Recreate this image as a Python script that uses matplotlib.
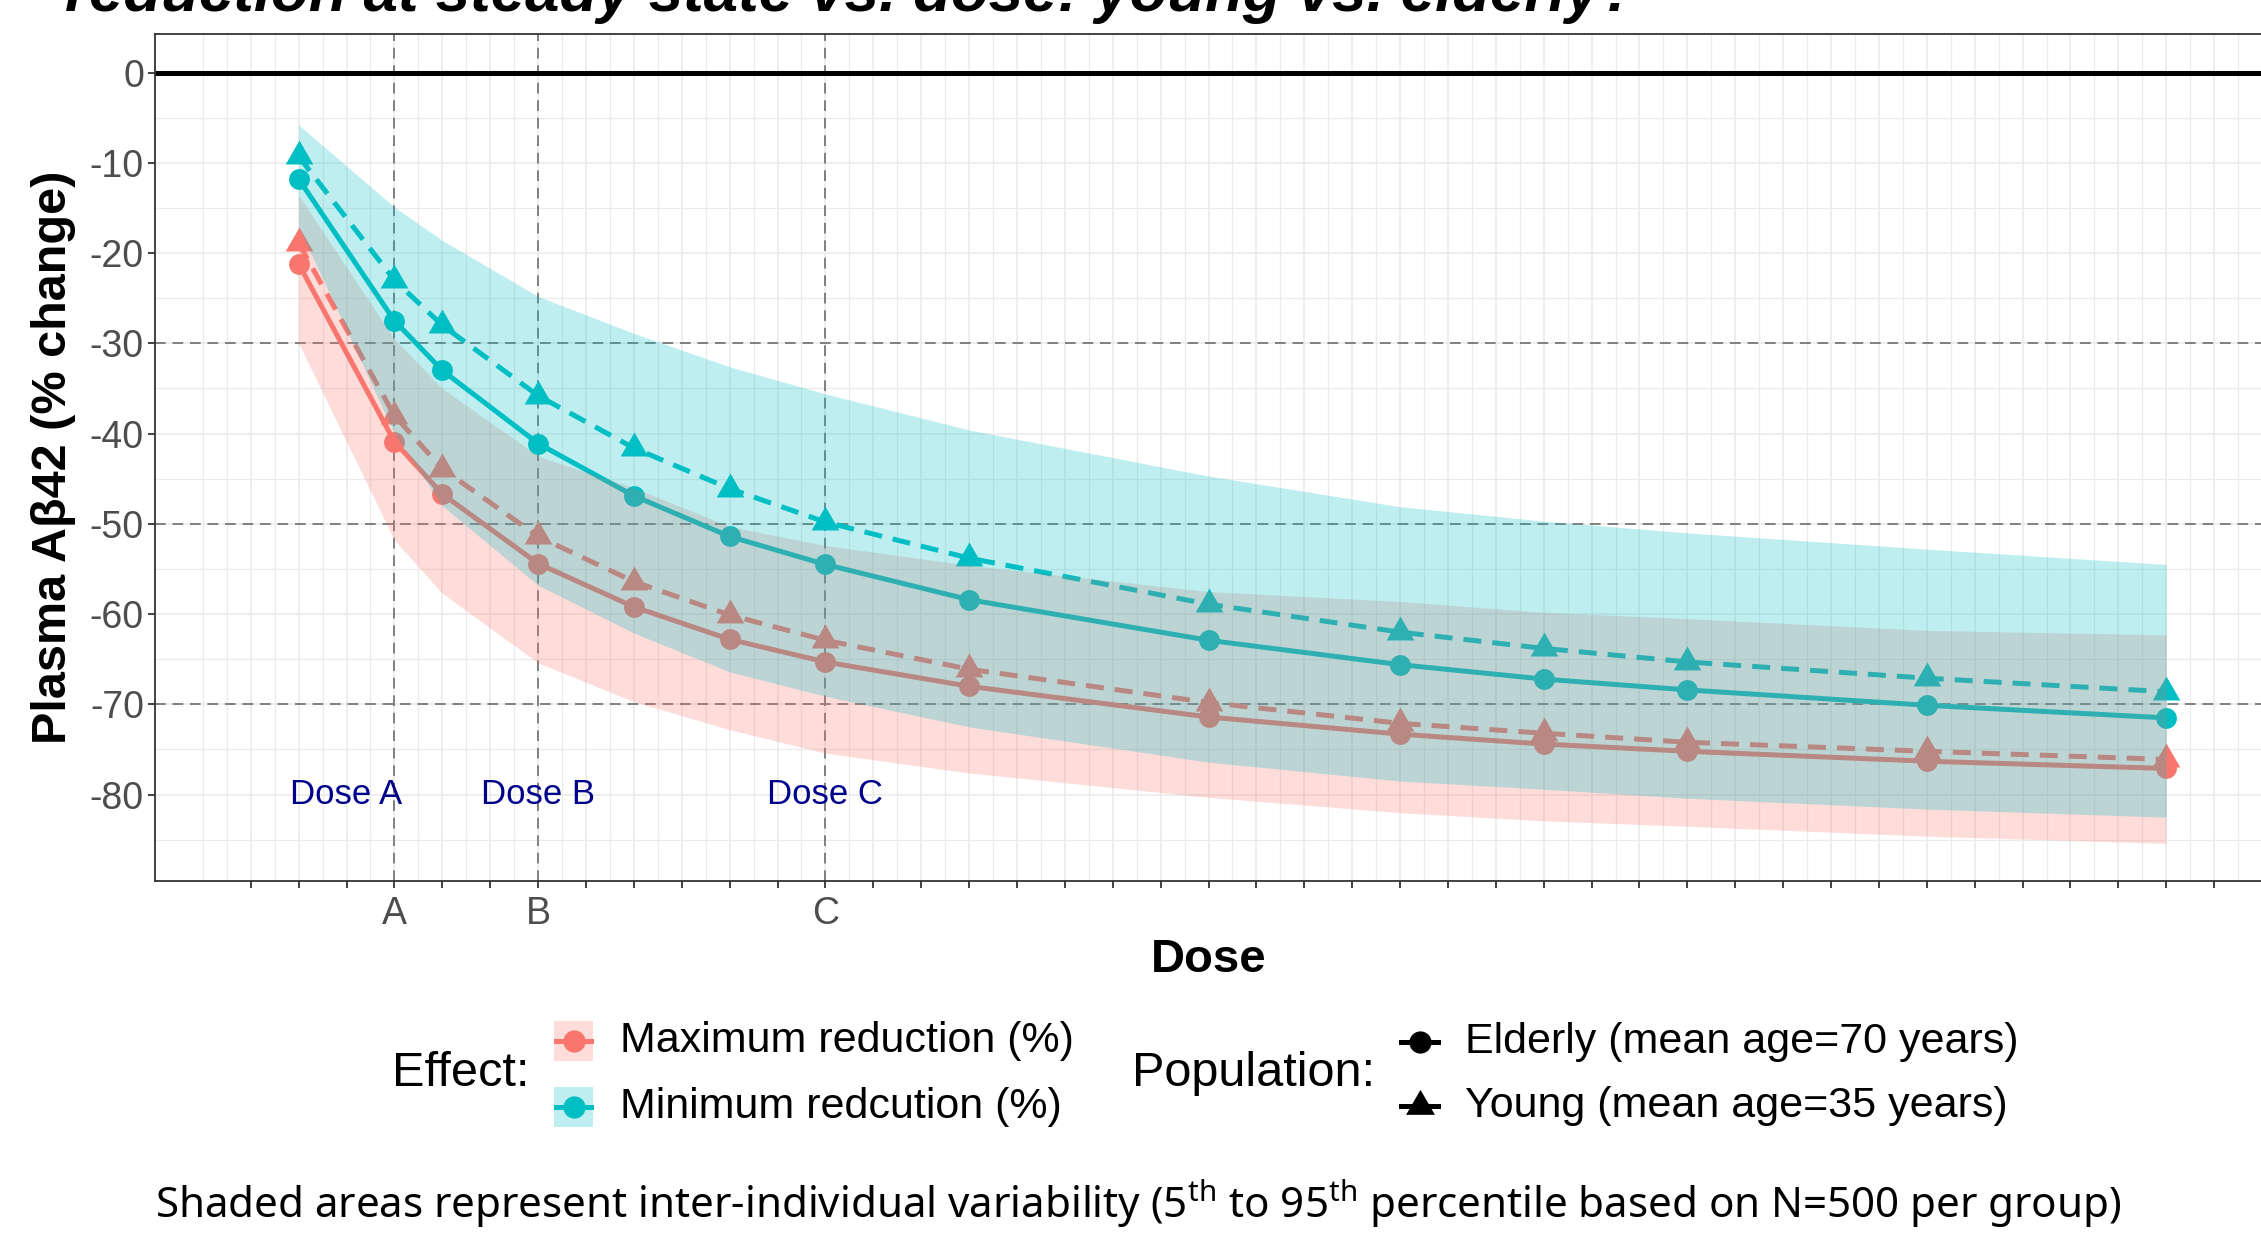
import numpy as np
import matplotlib
matplotlib.use("Agg")
import matplotlib.pyplot as plt
from matplotlib.lines import Line2D
from matplotlib.patches import Rectangle

plt.rcParams["font.family"] = ["Liberation Sans", "DejaVu Sans"]
plt.rcParams["mathtext.fontset"] = "custom"
plt.rcParams["mathtext.rm"] = "Noto Sans"

# dose grid (arbitrary units, ticks every unit)
dose = [1, 3, 4, 6, 8, 10, 12, 15, 20, 24, 27, 30, 35, 40]

# median curves (% change)
max_elderly = [-21.2, -40.9, -46.7, -54.4, -59.2, -62.8, -65.3, -68.0, -71.4, -73.3, -74.4, -75.2, -76.3, -77.1]
max_young = [-18.9, -38.0, -43.9, -51.4, -56.4, -60.1, -62.9, -66.1, -69.8, -72.1, -73.2, -74.2, -75.2, -76.1]
min_elderly = [-11.8, -27.5, -33.0, -41.1, -46.9, -51.4, -54.5, -58.4, -62.9, -65.6, -67.2, -68.4, -70.1, -71.5]
min_young = [-9.3, -23.0, -28.0, -35.8, -41.6, -46.1, -49.8, -53.8, -58.9, -62.0, -63.8, -65.3, -67.1, -68.6]

# 5th-95th percentile ribbons
max_lo = [-30.0, -51.8, -57.7, -65.4, -69.7, -72.8, -75.4, -77.6, -80.3, -82.0, -82.9, -83.5, -84.6, -85.4]
max_hi = [-13.6, -29.5, -35.0, -42.5, -46.0, -50.3, -52.4, -54.6, -57.5, -58.6, -59.8, -60.5, -61.8, -62.3]
min_lo = [-17.1, -40.0, -48.0, -56.8, -62.1, -66.4, -69.1, -72.5, -76.4, -78.5, -79.4, -80.4, -81.6, -82.5]
min_hi = [-5.8, -14.9, -18.6, -24.8, -28.9, -32.6, -35.6, -39.6, -44.7, -48.1, -49.7, -51.0, -52.8, -54.5]

ref_doses = [3, 6, 12]
ref_labels = ["A", "B", "C"]
ref_levels = [-30, -50, -70]
dose_text_x = [2.0, 6, 12]
dose_text = ["Dose A", "Dose B", "Dose C"]

RED = "#F8766D"
CYAN = "#00BFC4"
TRI = [(0, 1), (-0.866, -0.5), (0.866, -0.5)]

W, H, DPI = 2261, 1239, 100
fig = plt.figure(figsize=(W / DPI, H / DPI), dpi=DPI)
fig.patch.set_facecolor("white")


def fx(px):
    return px / W


def fy(py):
    return 1 - py / H


ax = fig.add_axes([fx(155), fy(881), fx(2262) - fx(155), fy(34) - fy(881)])
ax.set_xlim(-2, 42)
ax.set_ylim(-89.57, 4.27)

# grid
ax.set_xticks(range(0, 43))
ax.set_xticks(np.arange(-1, 42.01, 0.5), minor=True)
ax.set_yticks(range(-80, 1, 10))
ax.set_yticks(range(-85, 0, 10), minor=True)
ax.grid(which="major", color="#EBEBEB", lw=1.2)
ax.grid(which="minor", color="#EBEBEB", lw=0.9)
ax.set_axisbelow(True)

xlabels = [""] * 43
for d, l in zip(ref_doses, ref_labels):
    xlabels[d] = l
ax.set_xticklabels(xlabels)
ax.set_yticklabels([str(v) for v in range(-80, 1, 10)])
ax.tick_params(which="major", length=5, width=1.3, color="#333333",
               labelsize=27, labelcolor="#4D4D4D")
ax.tick_params(axis="x", pad=6)
ax.tick_params(axis="y", pad=3)
ax.tick_params(which="minor", length=0)
for side in ["left", "bottom", "top"]:
    ax.spines[side].set_color("#333333")
    ax.spines[side].set_linewidth(1.3)
ax.spines["right"].set_visible(False)

# reference lines
for d in ref_doses:
    ax.axvline(d, color="#808080", lw=1.4, dashes=(5.5, 3.5), zorder=1)
for lv in ref_levels:
    ax.axhline(lv, color="#808080", lw=1.4, dashes=(5.5, 3.5), zorder=1)
ax.axhline(0, color="black", lw=3.6, zorder=1.5)

# curves
lw = 3.6
ax.plot(dose, max_elderly, color=RED, lw=lw, marker="o", ms=15, mew=0, zorder=2)
ax.plot(dose, max_young, color=RED, lw=lw, dashes=(3.6, 2.2), marker=TRI, ms=23, mew=0, zorder=2)
ax.plot(dose, min_elderly, color=CYAN, lw=lw, marker="o", ms=15, mew=0, zorder=2)
ax.plot(dose, min_young, color=CYAN, lw=lw, dashes=(3.6, 2.2), marker=TRI, ms=23, mew=0, zorder=2)

# ribbons on top
ax.fill_between(dose, max_lo, max_hi, color=RED, alpha=0.25, lw=0, zorder=3)
ax.fill_between(dose, min_lo, min_hi, color=CYAN, alpha=0.25, lw=0, zorder=3)

for x, t in zip(dose_text_x, dose_text):
    ax.text(x, -80, t, color="#00008B", fontsize=25, ha="center", va="center", zorder=4)

ax.set_xlabel("Dose", fontsize=34, fontweight="bold", labelpad=4)
ax.set_ylabel("Plasma A\u03b242 (% change)", fontsize=35, fontweight="bold", labelpad=10)

# title (cropped at top in the reference)
fig.text(fx(65), fy(11), "reduction at steady state vs. dose: young vs. elderly?",
         fontsize=44.5, fontweight="bold", style="italic", ha="left", va="baseline")

# legend: Effect
fig.text(fx(392), fy(1074), "Effect:", fontsize=35, ha="left", va="center")
eff_rows = [(1041, RED, "Maximum reduction (%)"), (1107, CYAN, "Minimum redcution (%)")]
for yy, col, lab in eff_rows:
    fig.add_artist(Rectangle((fx(554), fy(yy + 20)), fx(593) - fx(554), fy(yy - 20) - fy(yy + 20),
                             transform=fig.transFigure, facecolor=col, alpha=0.25, lw=0))
    fig.add_artist(Line2D([fx(556), fx(591)], [fy(yy), fy(yy)], transform=fig.transFigure,
                          color=col, lw=lw))
    fig.add_artist(Line2D([fx(573.5)], [fy(yy)], transform=fig.transFigure,
                          color=col, marker="o", ms=16, mew=0, ls="none"))
    fig.text(fx(620), fy(yy), lab, fontsize=31, ha="left", va="center")

# legend: Population
fig.text(fx(1132), fy(1074), "Population:", fontsize=35, ha="left", va="center")
pop_rows = [(1042, "o", 16, "Elderly (mean age=70 years)"), (1106, TRI, 24, "Young (mean age=35 years)")]
for yy, mk, ms, lab in pop_rows:
    fig.add_artist(Line2D([fx(1401), fx(1438)], [fy(yy), fy(yy)], transform=fig.transFigure,
                          color="black", lw=lw))
    fig.add_artist(Line2D([fx(1419.5)], [fy(yy)], transform=fig.transFigure,
                          color="black", marker=mk, ms=ms, mew=0, ls="none"))
    fig.text(fx(1465), fy(yy), lab, fontsize=31, ha="left", va="center")

# caption
fig.text(fx(1138), fy(1204),
         r"Shaded areas represent inter-individual variability (5$^{\mathrm{th}}$ to 95$^{\mathrm{th}}$ "
         r"percentile based on N=500 per group)",
         fontsize=30.3, family="Noto Sans", ha="center", va="center")

fig.savefig("out.png", dpi=DPI)
